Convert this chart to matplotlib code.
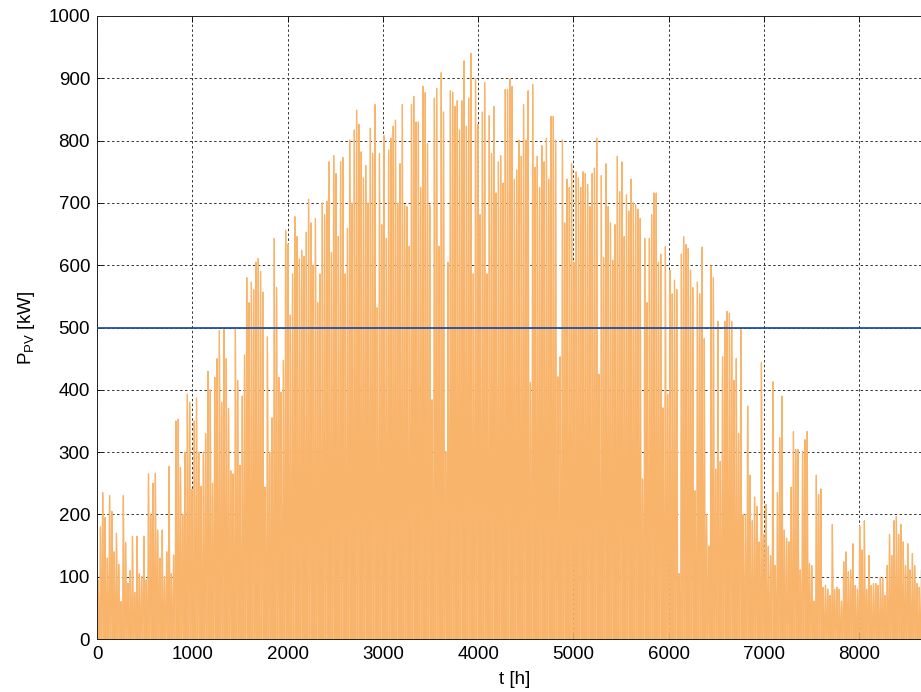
import matplotlib.pyplot as plt
import numpy as np

plt.rcParams['font.family'] = ['Liberation Sans', 'DejaVu Sans']
plt.rcParams['mathtext.fontset'] = 'custom'
plt.rcParams['mathtext.rm'] = 'Liberation Sans'

# daily peak PV power [kW] (approx.)
peaks_jan_feb = [95, 180, 235, 195, 130, 230, 205, 140, 170, 120, 60, 230, 155, 90, 110, 165, 75, 165, 105, 100,
                 165, 95, 265, 200, 250, 266, 175, 130, 175, 100, 140, 277, 105, 135, 350, 353, 275, 200, 300, 393,
                 380, 240, 350, 387, 300, 245, 300, 330, 430, 400, 250, 420, 450, 495, 380, 497, 450, 370, 270, 265,
                 500]
peaks_mar_apr = [415, 279, 390, 456, 580, 540, 573, 561, 605, 611, 590, 557, 244, 485, 300, 355, 643, 564, 420, 396,
                 447, 656, 634, 520, 586, 678, 646, 610, 624, 614, 653, 706, 668, 600, 675, 540, 586, 700, 681, 703,
                 766, 620, 776, 747, 646, 766, 773, 586, 659, 801, 700, 817, 849, 826, 782, 740, 760, 700, 820, 780]
peaks_may_jun = [858, 532, 779, 665, 808, 643, 785, 804, 823, 833, 700, 763, 858, 697, 694, 630, 858, 871, 830, 830,
                 725, 887, 877, 795, 697, 384, 868, 884, 630, 909, 846, 301, 605, 880, 878, 855, 864, 817, 864, 928,
                 823, 868, 940, 586, 899, 826, 681, 846, 893, 586, 840, 779, 855, 716, 766, 776, 732, 882, 882]
peaks_jul_aug = [899, 887, 738, 753, 801, 775, 858, 801, 880, 412, 890, 757, 775, 725, 792, 766, 804, 738, 839, 839,
                 801, 421, 453, 801, 668, 738, 725, 763, 605, 750, 740, 725, 750, 747, 730, 694, 747, 756, 804, 425,
                 744, 612, 763, 694, 668, 608, 665, 775, 718, 766, 646, 713, 687, 738, 700, 697, 690, 675, 257, 643,
                 540]
peaks_sep_oct = [643, 681, 716, 716, 605, 618, 371, 630, 393, 592, 554, 576, 561, 105, 618, 646, 633, 627, 592, 564,
                 238, 573, 554, 629, 482, 200, 149, 599, 580, 273, 510, 285, 453, 510, 526, 523, 510, 415, 450, 330,
                 497, 200, 200, 374, 263, 190, 228, 213, 156, 444, 168, 216, 149, 134, 413, 118, 235, 323, 390, 175,
                 162, 156, 244]
peaks_nov_dec = [333, 304, 304, 111, 301, 320, 333, 121, 118, 61, 263, 232, 241, 83, 86, 80, 70, 184, 80, 83,
                 80, 61, 124, 140, 108, 111, 153, 86, 80, 181, 143, 190, 80, 134, 86, 89, 89, 86, 99, 99,
                 70, 118, 168, 134, 190, 197, 168, 184, 156, 118, 153, 111, 137, 118, 89, 83, 111, 108, 194, 175,
                 150, 120, 90, 160, 140, 110]

# share of the daily peak reached in each hour of the day
day_shape = [0, 0, 0, 0, 0.02, 0.10, 0.28, 0.48, 0.66, 0.80, 0.90, 0.97, 1.0, 0.97, 0.90, 0.80, 0.66, 0.48, 0.28,
             0.10, 0.02, 0, 0, 0]

p_limit = 500  # kW

daily_peaks = np.array(peaks_jan_feb + peaks_mar_apr + peaks_may_jun + peaks_jul_aug + peaks_sep_oct + peaks_nov_dec,
                       dtype=float)
p_pv = np.outer(daily_peaks, day_shape).ravel()
t = np.arange(len(p_pv))

fig = plt.figure(figsize=(9.21, 6.92), dpi=100)
ax = fig.add_axes([97 / 921, 53 / 692, 834.8 / 921, 623 / 692])

orange = '#F9B46C'
ax.fill_between(t, p_pv, 0, color=orange, linewidth=0, zorder=2)
ax.plot(t, p_pv, color=orange, linewidth=0.9, zorder=2)
ax.axhline(p_limit, color='#1F4FA6', linewidth=1.3, zorder=3)

ax.set_xlim(0, 8760)
ax.set_ylim(0, 1000)
ax.set_xticks(np.arange(0, 8001, 1000))
ax.set_yticks(np.arange(0, 1001, 100))
ax.tick_params(direction='in', top=True, right=True, labelsize=13.5, length=4, width=0.6, pad=5)
ax.grid(True, color='#333333', linestyle=(0, (2.5, 2.5)), linewidth=0.7)
ax.set_axisbelow(True)
for s in ax.spines.values():
    s.set_linewidth(0.7)
    s.set_color('#222222')

ax.set_xlabel('t [h]', fontsize=13.5, labelpad=6)
ax.set_ylabel(r'P$_{\rm PV}$ [kW]', fontsize=13.5, labelpad=8)

fig.savefig('out.png', dpi=100)
